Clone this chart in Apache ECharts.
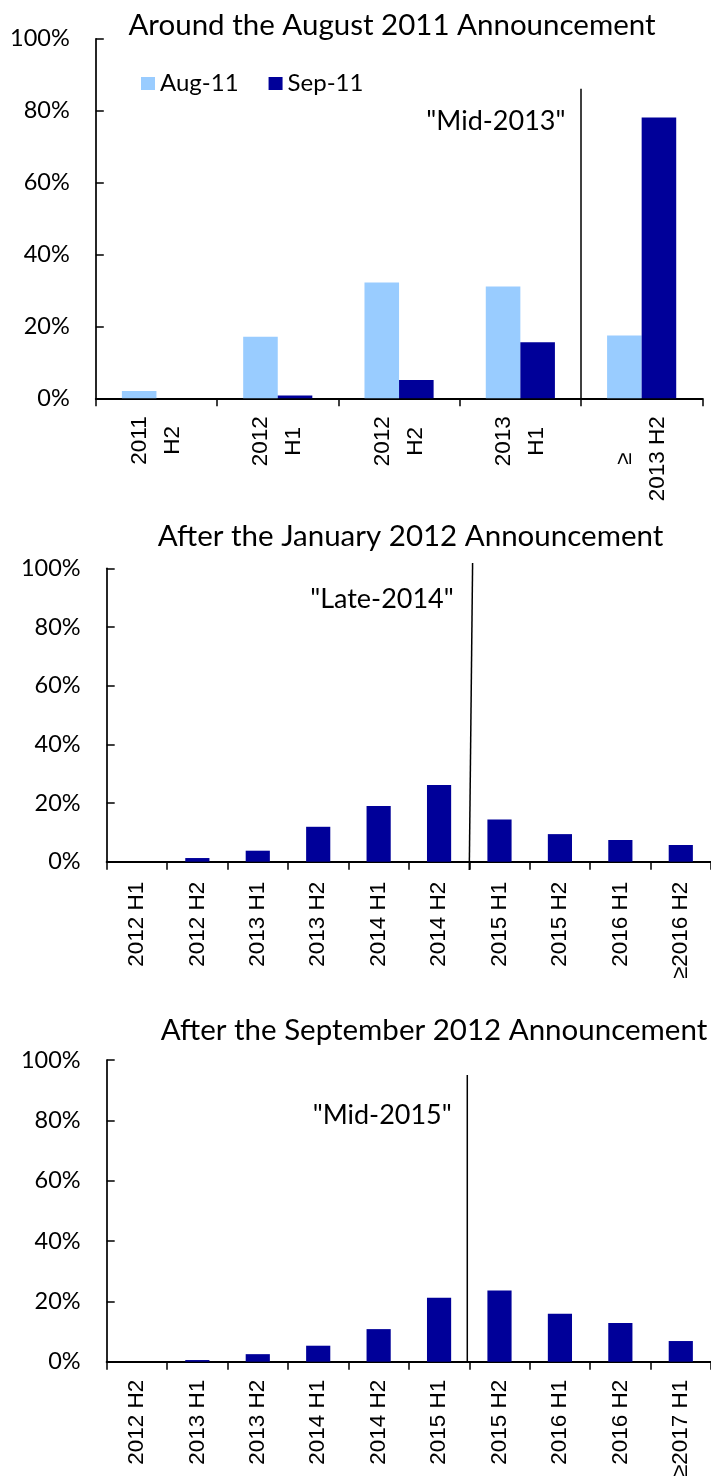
<!DOCTYPE html>
<html>
<head>
<meta charset="utf-8">
<script src="https://cdn.jsdelivr.net/npm/echarts@6/dist/echarts.min.js"></script>
<style>
html,body{margin:0;padding:0;background:#fff;}
#chart{width:711px;height:1482px;}
</style>
</head>
<body>
<div id="chart"></div>
<script>
// ---- data ----
const titles = ['Around the August 2011 Announcement', 'After the January 2012 Announcement', 'After the September 2012 Announcement'];
const cats1 = ['2011\nH2', '2012\nH1', '2012\nH2', '2013\nH1', '≥\n2013 H2'];
const aug11 = [2.0, 17.1, 32.2, 31.1, 17.5];
const sep11 = [0, 0.8, 5.1, 15.6, 78.1];
const cats2 = ['2012 H1', '2012 H2', '2013 H1', '2013 H2', '2014 H1', '2014 H2', '2015 H1', '2015 H2', '2016 H1', '≥2016 H2'];
const jan12 = [0, 1.25, 3.75, 11.9, 19.0, 26.1, 14.4, 9.4, 7.4, 5.7];
const cats3 = ['2012 H2', '2013 H1', '2013 H2', '2014 H1', '2014 H2', '2015 H1', '2015 H2', '2016 H1', '2016 H2', '≥2017 H1'];
const sep12 = [0, 0.55, 2.5, 5.3, 10.8, 21.2, 23.6, 15.9, 12.8, 6.85];
const yTicks = [0, 20, 40, 60, 80, 100];
// separator lines: [category-boundary position, % value] end points
const sepLine1 = [[4, 0], [4, 86.1]];
const sepLine2 = [[6.0, -2.8], [6.055, 101.8]];
const sepLine3 = [[5.967, 0], [5.967, 95.0]];
// annotations: [category-boundary position, % value, text]
const note1 = [4, 77, '"Mid-2013"'];
const note2 = [6, 89.6, '"Late-2014"'];
const note3 = [5.967, 81.8, '"Mid-2015"'];

// ---- styles ----
const CAL = 'Lato, "Open Sans", sans-serif';
const ARIAL = '"Liberation Sans", Arial, sans-serif';
const NAVY = '#000099';
const LIGHT = '#99CCFF';

const grids = [
  {left: 95.8, top: 38.8, width: 606.5, height: 359.5},
  {left: 106.7, top: 568.3, width: 610, height: 293.4},
  {left: 106.7, top: 1060, width: 610, height: 301.7}
];
const titlePos = [[392, 25], [410.5, 536.7], [434, 1030]];

function catAxis(gi, data, margin, rich) {
  const label = {
    interval: 0, rotate: 90, margin: margin, color: '#000',
    fontFamily: ARIAL, fontSize: 22.5
  };
  if (rich) {
    label.formatter = v => v.split('\n').map(s => '{c|' + s + '}').join('\n');
    label.rich = {c: {align: 'center', fontFamily: ARIAL, fontSize: 22.5, lineHeight: 33, color: '#000'}};
  }
  return {
    type: 'category', gridIndex: gi, data: data,
    axisLine: {show: true, lineStyle: {color: '#000', width: 2}},
    axisTick: {show: true, length: 8, interval: 0, lineStyle: {color: '#000', width: 1.5}},
    axisLabel: label,
    splitLine: {show: false}
  };
}
function valAxis(gi) {
  return {
    type: 'value', gridIndex: gi, min: yTicks[0], max: yTicks[yTicks.length - 1],
    interval: yTicks[1] - yTicks[0],
    axisLine: {show: true, lineStyle: {color: '#000', width: 1.7}},
    axisTick: {show: true, inside: true, length: 8, lineStyle: {color: '#000', width: 1.5}},
    axisLabel: {formatter: '{value}%', margin: 26, color: '#000', fontFamily: CAL, fontSize: 23.5},
    splitLine: {show: false}
  };
}
function hiddenX(gi, n) {
  return {type: 'value', gridIndex: gi, min: 0, max: n, show: false};
}
function sepSeries(xi, yi, pts) {
  return {
    type: 'line', xAxisIndex: xi, yAxisIndex: yi, data: pts, symbol: 'none',
    clip: false, silent: true, z: 5,
    lineStyle: {color: '#000', width: 1.5}
  };
}
function noteSeries(xi, yi, note) {
  return {
    type: 'scatter', xAxisIndex: xi, yAxisIndex: yi, data: [[note[0], note[1]]],
    symbolSize: 1, itemStyle: {color: 'rgba(0,0,0,0)', opacity: 1}, silent: true, clip: false, z: 6,
    label: {show: true, position: 'left', distance: 15, formatter: note[2],
      color: '#000', opacity: 1, fontFamily: CAL, fontSize: 27}
  };
}

const chart = echarts.init(document.getElementById('chart'), null, {renderer: 'canvas'});
chart.setOption({
  animation: false,
  backgroundColor: '#fff',
  title: titles.map((t, i) => ({
    text: t, left: titlePos[i][0], top: titlePos[i][1] - 17, textAlign: 'center', padding: 0,
    textStyle: {fontFamily: CAL, fontSize: 29.5, fontWeight: 'normal', color: '#000', lineHeight: 34}
  })),
  legend: {
    data: ['Aug-11', 'Sep-11'], left: 141, top: 70, padding: 0,
    itemWidth: 14, itemHeight: 13, itemGap: 30, icon: 'rect',
    textStyle: {fontFamily: CAL, fontSize: 24, color: '#000', lineHeight: 27}
  },
  grid: grids,
  xAxis: [
    catAxis(0, cats1, 18, true),
    catAxis(1, cats2, 20, false),
    catAxis(2, cats3, 18, false),
    hiddenX(0, cats1.length),
    hiddenX(1, cats2.length),
    hiddenX(2, cats3.length)
  ],
  yAxis: [valAxis(0), valAxis(1), valAxis(2)],
  series: [
    {name: 'Aug-11', type: 'bar', xAxisIndex: 0, yAxisIndex: 0, data: aug11,
      barGap: '0%', barCategoryGap: '43%', itemStyle: {color: LIGHT}},
    {name: 'Sep-11', type: 'bar', xAxisIndex: 0, yAxisIndex: 0, data: sep11,
      barGap: '0%', barCategoryGap: '43%', itemStyle: {color: NAVY}},
    {name: 'Jan-12', type: 'bar', xAxisIndex: 1, yAxisIndex: 1, data: jan12,
      barCategoryGap: '60%', itemStyle: {color: NAVY}},
    {name: 'Sep-12', type: 'bar', xAxisIndex: 2, yAxisIndex: 2, data: sep12,
      barCategoryGap: '60%', itemStyle: {color: NAVY}},
    sepSeries(3, 0, sepLine1),
    sepSeries(4, 1, sepLine2),
    sepSeries(5, 2, sepLine3),
    noteSeries(3, 0, note1),
    noteSeries(4, 1, note2),
    noteSeries(5, 2, note3)
  ]
});
</script>
</body>
</html>
